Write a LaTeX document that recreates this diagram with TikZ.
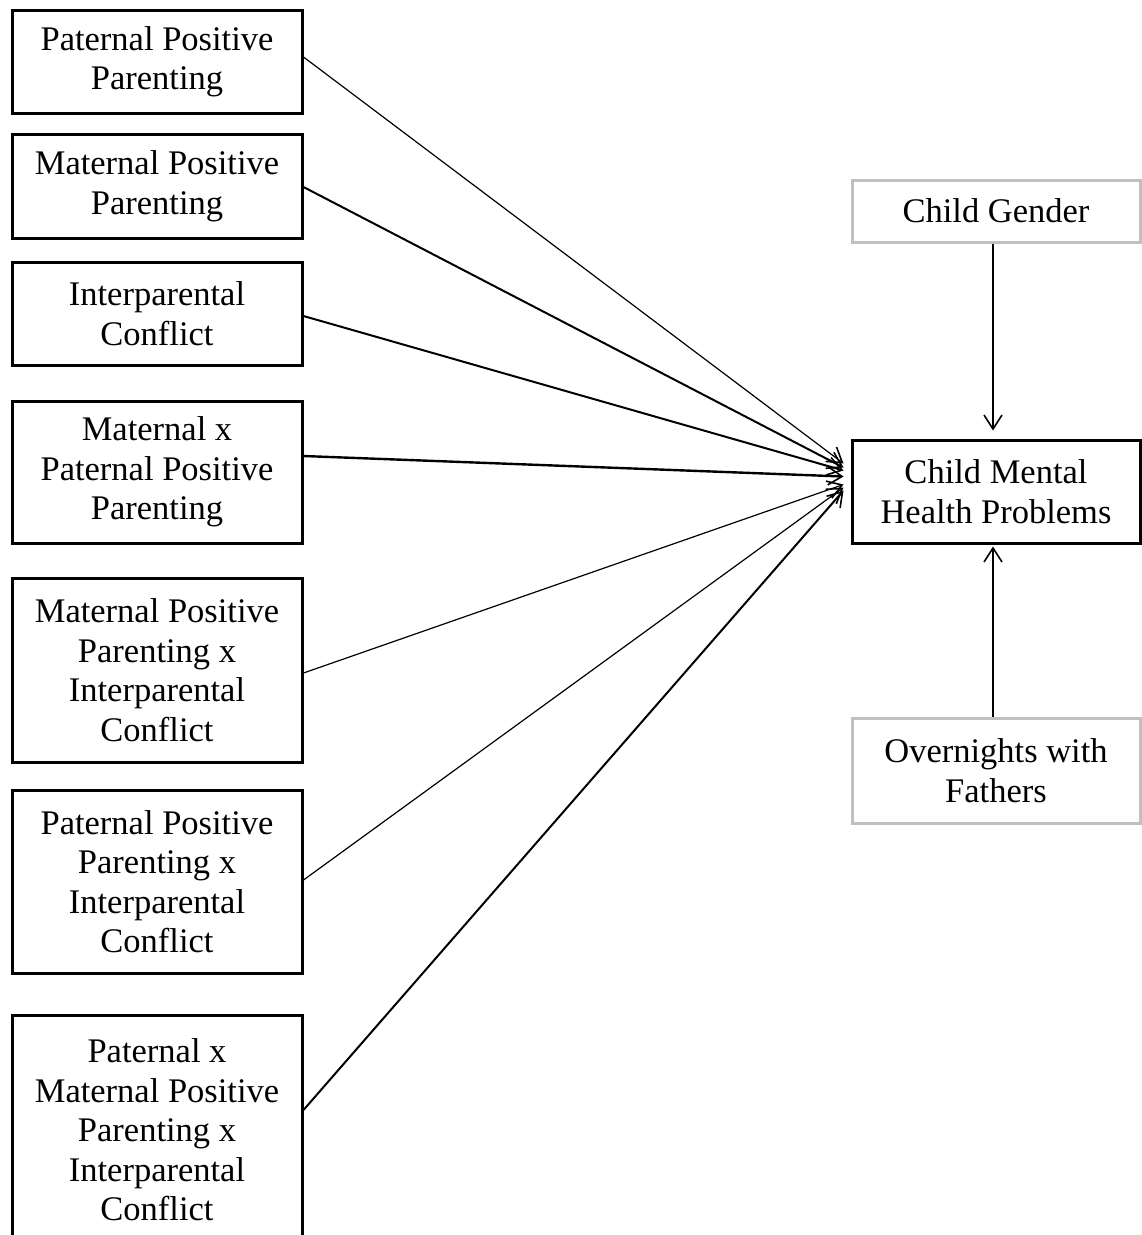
\documentclass[tikz,border=0pt]{standalone}
\usepackage{fontspec}
\setmainfont{Liberation Serif}
\usetikzlibrary{arrows.meta}
\definecolor{lgray}{HTML}{C0C0C0}
\newcommand{\txt}{\fontsize{34.5}{39.5}\selectfont}
\tikzset{
  box/.style={draw=black, line width=3pt, minimum width=290pt, align=center, inner sep=0pt, font=\txt},
  gbox/.style={box, draw=lgray},
  arr/.style={-{Straight Barb[length=14pt,width=18pt,line width=1.6pt]}},
}
\begin{document}
\begin{tikzpicture}[x=1pt,y=-1pt]
\useasboundingbox (0,0) rectangle (1142,1235);
\clip (0,0) rectangle (1142,1235);
\node[box, minimum height=103pt] (b1) at (157,61.5) {Paternal Positive\\Parenting};
\node[box, minimum height=104pt] (b2) at (157,186) {Maternal Positive\\Parenting};
\node[box, minimum height=103pt] (b3) at (157,313.5) {Interparental\\Conflict};
\node[box, minimum height=142pt] (b4) at (157,472) {Maternal x\\Paternal Positive\\Parenting};
\node[box, minimum height=184pt] (b5) at (157,670) {Maternal Positive\\Parenting x\\Interparental\\Conflict};
\node[box, minimum height=183pt] (b6) at (157,881.5) {Paternal Positive\\Parenting x\\Interparental\\Conflict};
\node[box, minimum height=230pt] (b7) at (157,1130) {Paternal x\\Maternal Positive\\Parenting x\\Interparental\\Conflict};
\node[gbox, minimum width=288pt, minimum height=62pt] (cg) at (996,211) {Child Gender};
\node[box, minimum width=288pt, minimum height=103pt] (cm) at (996,491.5) {Child Mental\\Health Problems};
\node[gbox, minimum width=288pt, minimum height=105pt] (ov) at (996,770.5) {Overnights with\\Fathers};
\begin{scope}[arr]
\draw[line width=1.2pt] ([yshift=4.5pt]b1.east) -- ([xshift=-7pt,yshift=28pt]cm.west);
\draw[line width=2pt] ([yshift=-1pt]b2.east) -- ([xshift=-7pt,yshift=24pt]cm.west);
\draw[line width=2pt] ([yshift=-2.5pt]b3.east) -- ([xshift=-7pt,yshift=21pt]cm.west);
\draw[line width=2.4pt] ([yshift=16pt]b4.east) -- ([xshift=-7pt,yshift=15pt]cm.west);
\draw[line width=1.2pt] ([yshift=-3pt]b5.east) -- ([xshift=-7pt,yshift=7pt]cm.west);
\draw[line width=1.2pt] ([yshift=1.5pt]b6.east) -- ([xshift=-7pt,yshift=4pt]cm.west);
\draw[line width=2pt] ([yshift=20pt]b7.east) -- ([xshift=-7pt,yshift=1pt]cm.west);
\draw[line width=1.6pt, shorten >=8pt] ([xshift=-3pt]cg.south) -- ([xshift=-3pt]cm.north);
\draw[line width=2pt, shorten >=2pt] ([xshift=-3pt]ov.north) -- ([xshift=-3pt]cm.south);
\end{scope}
\end{tikzpicture}
\end{document}
